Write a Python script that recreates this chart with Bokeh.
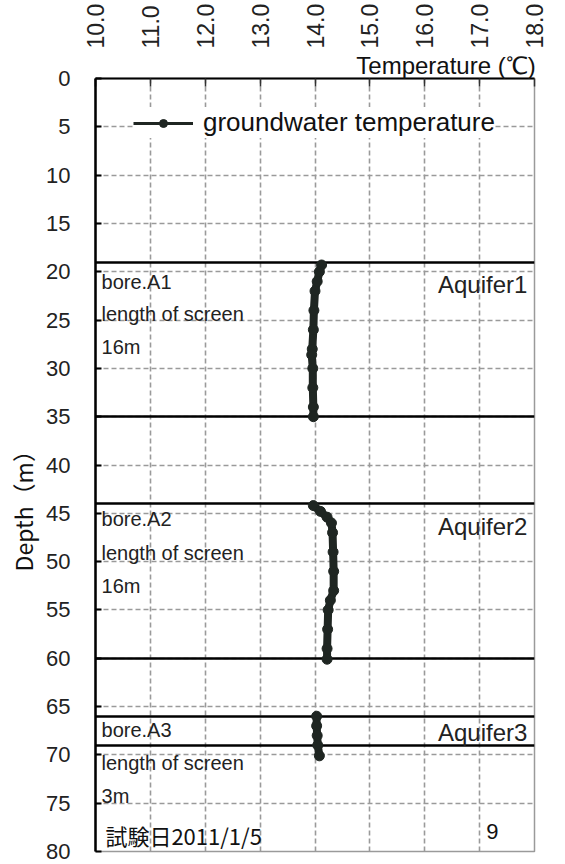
import math
from bokeh.plotting import figure
from bokeh.models import Range1d, FixedTicker, Label, Legend, LegendItem, ColumnDataSource, LinearAxis
from bokeh.core.properties import value
from bokeh.embed import file_html
from bokeh.resources import INLINE

# ---------------- data ----------------
temp_ticks = [10, 11, 12, 13, 14, 15, 16, 17, 18]
temp_tick_labels = ["10.0", "11.0", "12.0", "13.0", "14.0", "15.0", "16.0", "17.0", "18.0"]
depth_ticks = [0, 5, 10, 15, 20, 25, 30, 35, 40, 45, 50, 55, 60, 65, 70, 75, 80]

a1_depth = [19.3, 20.0, 21.0, 22.0, 24.0, 26.0, 28.0, 28.6, 30.0, 32.0, 34.0, 35.0]
a1_temp = [14.12, 14.08, 14.04, 14.00, 13.98, 13.97, 13.95, 13.94, 13.96, 13.96, 13.97, 13.97]

a2_depth = [44.2, 44.8, 45.4, 46.0, 47.0, 49.0, 51.0, 53.0, 54.0, 55.0, 57.0, 59.0, 60.1]
a2_temp = [13.97, 14.10, 14.22, 14.30, 14.32, 14.33, 14.34, 14.34, 14.28, 14.24, 14.23, 14.22, 14.22]

a3_depth = [66.0, 67.0, 68.0, 69.0, 70.1]
a3_temp = [14.03, 14.03, 14.04, 14.05, 14.08]

aquifer_top = [19, 44, 66]
aquifer_bottom = [35, 60, 69]
aquifer_names = ["Aquifer1", "Aquifer2", "Aquifer3"]
aquifer_label_depth = [21.3, 46.4, 67.7]

bore_text = ["bore.A1", "length of screen", "16m",
             "bore.A2", "length of screen", "16m",
             "bore.A3", "length of screen", "3m"]
bore_text_depth = [21.1, 24.4, 27.8, 45.6, 49.1, 52.5, 67.4, 70.8, 74.3]

series_name = "groundwater temperature"
x_title = "Temperature (\u2103)"
y_title = "Depth\uff08m\uff09"
test_date = "試験日2011/1/5"
page_no = "9"

# ---------------- figure ----------------
INK = "#1f2622"
GRID = "#9a9a9a"

p = figure(width=565, height=864, output_backend="svg", toolbar_location=None,
           x_range=Range1d(10, 18), y_range=Range1d(80, 0),
           x_axis_location="above",
           min_border_left=95, min_border_right=31, min_border_top=78, min_border_bottom=13)
p.background_fill_color = "white"
p.border_fill_color = "white"
p.outline_line_color = GRID
p.outline_line_width = 1.5

# inner top axis: frame line, inward ticks (as unlabeled minor ticks), title
xa = p.xaxis[0]
xa.ticker = FixedTicker(ticks=[], minor_ticks=temp_ticks)
xa.bounds = (10, 18)
xa.major_tick_line_color = None
xa.minor_tick_in = 8
xa.minor_tick_out = 0
xa.minor_tick_line_color = "#333333"
xa.minor_tick_line_width = 1.5
xa.axis_line_width = 2
xa.axis_line_color = "black"
xa.major_label_standoff = 0
xa.axis_label = "\u3000" * 11 + x_title
xa.axis_label_text_font = "Liberation Sans"
xa.axis_label_text_font_size = "24px"
xa.axis_label_text_font_style = "normal"
xa.axis_label_text_color = "#111111"
xa.axis_label_standoff = 0

# outer top axis: tick labels
xt = LinearAxis(ticker=FixedTicker(ticks=temp_ticks))
xt.major_label_overrides = {t: s for t, s in zip(temp_ticks, temp_tick_labels)}
xt.major_label_orientation = math.pi / 2
xt.major_label_text_font = "Liberation Sans"
xt.major_label_text_font_size = "23px"
xt.major_label_text_color = "#222222"
xt.major_label_standoff = 0
xt.major_tick_in = 0
xt.major_tick_out = 0
xt.major_tick_line_color = None
xt.minor_tick_line_color = None
xt.axis_line_color = None
p.add_layout(xt, "above")

ya = p.yaxis[0]
ya.ticker = FixedTicker(ticks=depth_ticks)
ya.major_label_text_font = "Liberation Sans"
ya.major_label_text_font_size = "22px"
ya.major_label_text_color = "#222222"
ya.major_label_standoff = 25
ya.major_tick_in = 6
ya.major_tick_out = 0
ya.minor_tick_line_color = None
ya.axis_line_width = 2.5
ya.axis_line_color = "black"
ya.major_tick_line_color = "black"
ya.major_tick_line_width = 2
ya.axis_label = y_title + "\u3000" * 4
ya.axis_label_text_font = "Noto Sans CJK JP"
ya.axis_label_text_font_size = "23px"
ya.axis_label_text_font_style = "normal"
ya.axis_label_text_color = "#111111"
ya.axis_label_standoff = 3

# grids
p.xgrid.ticker = FixedTicker(ticks=temp_ticks[1:-1])
p.ygrid.ticker = FixedTicker(ticks=depth_ticks[1:-1])
for g in (p.xgrid, p.ygrid):
    g.grid_line_color = GRID
    g.grid_line_dash = "5 3"
    g.grid_line_width = 1.6

# aquifer boundaries
p.hspan(y=aquifer_top + aquifer_bottom, line_color="black", line_width=2.5)

# data
for t, d in ((a1_temp, a1_depth), (a2_temp, a2_depth), (a3_temp, a3_depth)):
    src = ColumnDataSource(dict(t=t, d=d))
    p.line("t", "d", source=src, line_color=INK, line_width=8, line_join="round", line_cap="round")
    p.scatter("t", "d", source=src, size=10, fill_color=INK, line_color=INK)

# legend (renderers without visible data so the sample is thin like the original)
nan = float("nan")
empty = ColumnDataSource(dict(t=[nan], d=[nan]))
lg_line = p.line("t", "d", source=empty, line_color=INK, line_width=3)
lg_dot = p.scatter("t", "d", source=empty, size=10, fill_color=INK, line_color=INK)
legend = Legend(items=[LegendItem(label=series_name, renderers=[lg_line, lg_dot])],
                location=(38, 713), padding=8, margin=0, spacing=0,
                glyph_width=60, glyph_height=20, label_standoff=10,
                label_text_font="Liberation Sans", label_text_font_size="26px",
                label_text_color="#111111",
                border_line_color=None, background_fill_color="white", background_fill_alpha=1.0)
p.add_layout(legend)

# in-plot texts
bsrc = ColumnDataSource(dict(x=[10.11] * len(bore_text), y=bore_text_depth, s=bore_text))
p.text("x", "y", text="s", source=bsrc, text_font=value("Liberation Sans"), text_font_size="20px",
       text_color="#222222", text_baseline="middle", text_align="left")
asrc = ColumnDataSource(dict(x=[17.87] * 3, y=aquifer_label_depth, s=aquifer_names))
p.text("x", "y", text="s", source=asrc, text_font=value("Liberation Sans"), text_font_size="24px",
       text_color="#222222", text_baseline="middle", text_align="right")

p.add_layout(Label(x=10.18, y=78.3, text=test_date, text_font="Noto Sans CJK JP",
                   text_font_size="22px", text_color="#111111", text_baseline="middle"))
p.add_layout(Label(x=17.23, y=77.9, text=page_no, text_font="Liberation Sans",
                   text_font_size="22px", text_color="#111111", text_baseline="middle",
                   text_align="center"))

open("out.html", "w").write(file_html(p, INLINE))
